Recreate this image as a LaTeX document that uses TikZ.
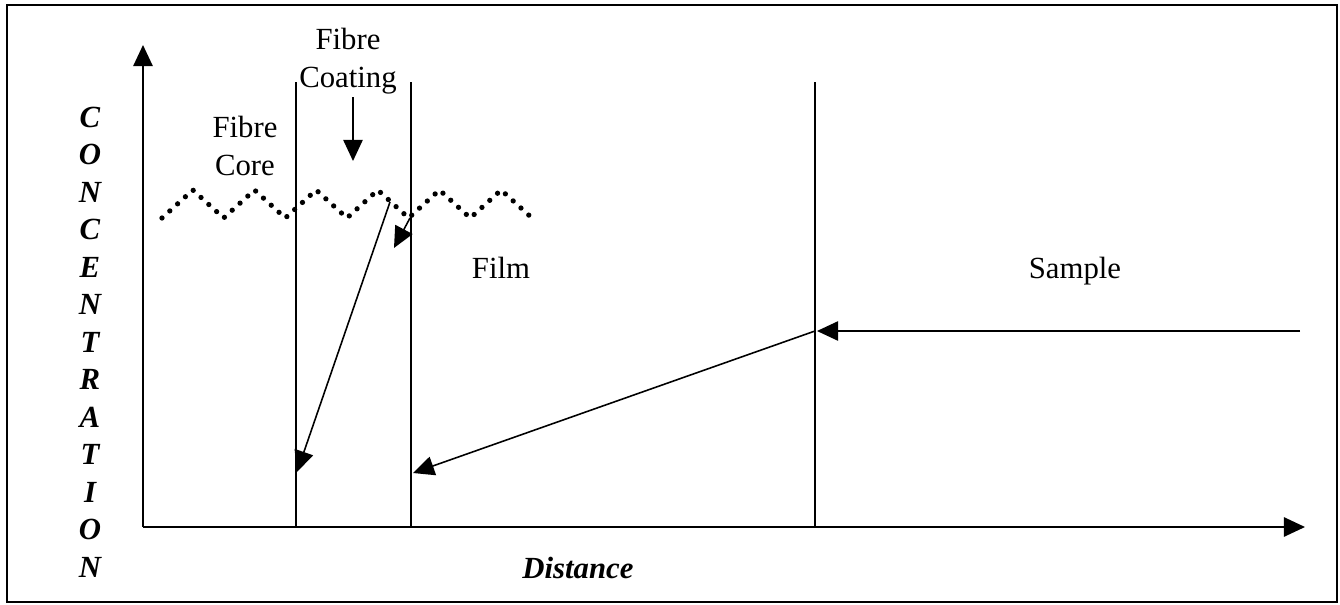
\documentclass[tikz,border=0pt]{standalone}
\usepackage{fontspec}
\setmainfont{Liberation Serif}
\usetikzlibrary{positioning,arrows.meta}

\begin{document}
\begin{tikzpicture}[x=0.02cm,y=-0.02cm,>={Triangle[length=12pt,width=11pt]}]
  \tikzstyle{lbl}=[inner sep=0pt,anchor=base,font=\fontsize{17.5}{21}\selectfont]
  \tikzstyle{axislbl}=[lbl,font=\fontsize{17.5}{21}\selectfont\bfseries\itshape]
  \tikzstyle{wall}=[line width=0.9pt]
  \tikzstyle{flux}=[line width=0.9pt,->]
  \tikzstyle{zigzag}=[line width=3pt,line cap=round,dash pattern=on 0pt off 6pt]
  \useasboundingbox (0,0) rectangle (1340,605);
  \draw[line width=1pt] (7,5) rectangle (1337,602);
  % axes
  \coordinate (origin) at (143,527);
  \coordinate (ytip) at (143,45);
  \coordinate (xtip) at (1305,527);
  \draw[line width=1pt,->] (origin) -- (ytip);
  \draw[line width=1pt,->] (origin) -- (xtip);
  \foreach \l [count=\i from 0] in {C,O,N,C,E,N,T,R,A,T,I,O,N}
    \node[axislbl] (conc\i) at (90,127+37.5*\i) {\l};
  \node[axislbl] (dist) at (578,578) {Distance};
  % phase boundaries
  \coordinate (core top) at (296,82);
  \coordinate (core bot) at (296,527);
  \coordinate (coat top) at (411,82);
  \coordinate (coat bot) at (411,527);
  \coordinate (film top) at (815,82);
  \coordinate (film bot) at (815,527);
  \draw[wall] (core top) -- (core bot);
  \draw[wall] (coat top) -- (coat bot);
  \draw[wall] (film top) -- (film bot);
  % labels
  \node[lbl] (fibre1) at (245,137) {Fibre};
  \node[lbl] (core) at (245,175) {Core};
  \node[lbl] (fibre2) at (348,50) {Fibre};
  \node[lbl] (coating) at (348,87) {Coating};
  \node[lbl] (film) at (501,278) {Film};
  \node[lbl] (sample) at (1075,278) {Sample};
  % interface
  \draw[zigzag] (162,218) foreach \i in {1,...,6} {-- ++(30.83,-28) -- ++(30.83,28)};
  % transport
  \coordinate (coat arr) at (353,97);
  \coordinate (coat tip) at (353,161);
  \coordinate (s0) at (1300,331);
  \coordinate (s1) at (817,331);
  \coordinate (f0) at (815,331);
  \coordinate (f1) at (413,473);
  \coordinate (i0) at (410,218);
  \coordinate (i1) at (394,248);
  \coordinate (c0) at (390,202);
  \coordinate (c1) at (297,472);
  \draw[flux] (coat arr) -- (coat tip);
  \draw[flux] (s0) -- (s1);
  \draw[flux] (f0) -- (f1);
  \draw[flux] (i0) -- (i1);
  \draw[flux] (c0) -- (c1);
\end{tikzpicture}
\end{document}
